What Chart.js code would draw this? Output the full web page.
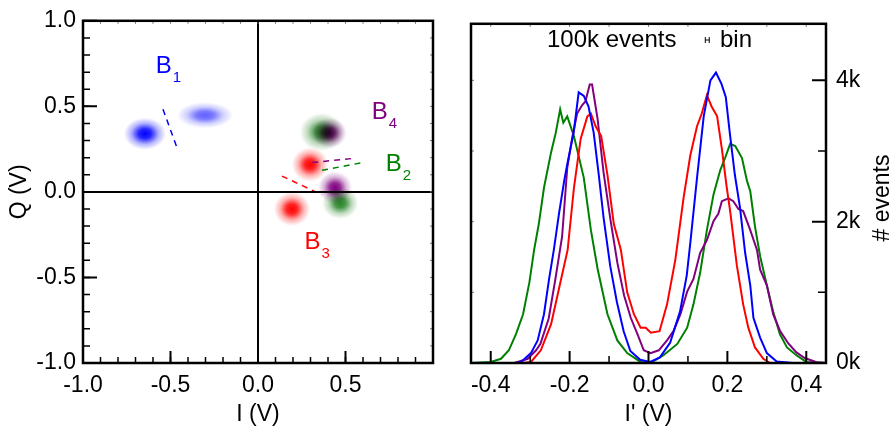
<!DOCTYPE html>
<html>
<head>
<meta charset="utf-8">
<script src="https://cdn.jsdelivr.net/npm/chart.js@4.4.0/dist/chart.umd.min.js"></script>
<style>
  html, body { margin: 0; padding: 0; background: #fff; }
  #wrap { position: relative; width: 896px; height: 431px; }
  .panel { position: absolute; top: 0; height: 431px; }
  #left { left: 0; width: 450px; }
  #right { left: 450px; width: 446px; }
</style>
</head>
<body>
<div id="wrap">
  <div class="panel" id="left"><canvas id="chartIQ"></canvas></div>
  <div class="panel" id="right"><canvas id="chartHist"></canvas></div>
</div>
<script>
// ---- left panel: IQ plane ----
const iTicks = [-1.0, -0.5, 0.0, 0.5];
const qTicks = [-1.0, -0.5, 0.0, 0.5, 1.0];

const blueBlobI = [-0.646, -0.303];
const blueBlobQ = [0.34, 0.448];
const greenBlobI = [0.365, 0.47];
const greenBlobQ = [0.35, -0.065];
const purpleBlobI = [0.41, 0.44];
const purpleBlobQ = [0.345, 0.025];
const redBlobI = [0.297, 0.194];
const redBlobQ = [0.16, -0.10];

// dashed separator lines, [I, Q] end points
const b1Dash = [[-0.543, 0.483], [-0.463, 0.259]];
const b4Dash = [[0.31, 0.172], [0.537, 0.195]];
const b2Dash = [[0.366, 0.126], [0.60, 0.172]];
const b3Dash = [[0.137, 0.092], [0.366, -0.017]];

const stateNames = ['B', 'B', 'B', 'B'];
const stateSubs = ['1', '4', '2', '3'];
const stateI = [-0.585, 0.65, 0.73, 0.266];
const stateQ = [0.695, 0.425, 0.12, -0.333];

// ---- right panel: histograms of I' ----
const histTicks = [-0.4, -0.2, 0.0, 0.2, 0.4];
const countTicks = [0, 2000, 4000];
const countLabels = ['0k', '2k', '4k'];

const blueHist = [[-0.45,0],[-0.34,0],[-0.323,15],[-0.298,140],[-0.281,320],[-0.265,690],[-0.252,1190],[-0.24,1600],[-0.227,2110],[-0.214,2570],[-0.205,2840],[-0.19,3250],[-0.177,3830],[-0.164,3780],[-0.152,3630],[-0.139,3260],[-0.126,2660],[-0.114,2060],[-0.097,1370],[-0.08,860],[-0.063,450],[-0.046,170],[-0.021,45],[0.004,15],[0.029,80],[0.055,290],[0.08,730],[0.097,1240],[0.106,1700],[0.123,2620],[0.14,3490],[0.157,4000],[0.171,4110],[0.185,3950],[0.196,3760],[0.206,3260],[0.219,2660],[0.232,2200],[0.245,1560],[0.258,1100],[0.266,640],[0.283,360],[0.30,140],[0.325,20],[0.366,0],[0.45,0]];

const redHist = [[-0.45,0],[-0.32,0],[-0.298,15],[-0.273,180],[-0.247,550],[-0.227,1050],[-0.205,1600],[-0.189,2480],[-0.172,3170],[-0.155,3490],[-0.146,3530],[-0.134,3350],[-0.12,3210],[-0.104,2660],[-0.088,1970],[-0.07,1600],[-0.054,1000],[-0.037,690],[-0.02,500],[-0.007,500],[0.006,430],[0.028,450],[0.047,830],[0.068,1460],[0.089,2340],[0.106,2940],[0.123,3350],[0.135,3530],[0.148,3790],[0.16,3630],[0.174,3490],[0.186,3030],[0.198,2500],[0.207,2150],[0.224,1380],[0.24,830],[0.253,500],[0.27,220],[0.291,60],[0.308,0],[0.45,0]];

const purpleHist = [[-0.45,0],[-0.34,0],[-0.306,60],[-0.285,180],[-0.274,270],[-0.253,630],[-0.236,1190],[-0.219,1790],[-0.206,2760],[-0.194,3170],[-0.181,3530],[-0.168,3650],[-0.16,3700],[-0.149,3940],[-0.143,3940],[-0.129,3450],[-0.114,2700],[-0.096,2010],[-0.079,1420],[-0.062,960],[-0.045,640],[-0.028,410],[-0.012,180],[0.005,140],[0.026,180],[0.047,320],[0.064,460],[0.081,690],[0.098,1010],[0.114,1190],[0.131,1560],[0.148,1740],[0.165,2010],[0.177,2110],[0.186,2290],[0.203,2330],[0.215,2290],[0.228,2180],[0.24,2150],[0.258,1880],[0.275,1600],[0.283,1320],[0.30,1100],[0.316,690],[0.333,460],[0.354,280],[0.375,150],[0.396,70],[0.426,10],[0.45,0]];

const greenHist = [[-0.45,0],[-0.40,15],[-0.374,60],[-0.354,180],[-0.336,410],[-0.318,690],[-0.302,1140],[-0.29,1600],[-0.278,1970],[-0.265,2480],[-0.247,2980],[-0.235,3260],[-0.224,3590],[-0.216,3400],[-0.206,3490],[-0.189,3210],[-0.164,2620],[-0.146,1880],[-0.129,1330],[-0.104,690],[-0.079,320],[-0.054,140],[-0.02,15],[0.005,0],[0.038,110],[0.073,270],[0.098,500],[0.114,830],[0.131,1280],[0.148,1880],[0.165,2390],[0.182,2730],[0.194,2900],[0.207,3100],[0.22,3070],[0.237,2900],[0.25,2570],[0.258,2430],[0.27,1930],[0.283,1510],[0.30,1100],[0.316,730],[0.333,410],[0.351,220],[0.375,110],[0.40,15],[0.45,0]];

const binCenter = 0.149;
const binWidth = 0.01;

const BLUE = '#0000ff', RED = '#ff0000', GREEN = '#008000', PURPLE = '#800080';
const FONT = "'Liberation Sans', Arial, sans-serif";

Chart.defaults.font.family = FONT;
Chart.defaults.font.size = 23;
Chart.defaults.color = '#000';
Chart.defaults.animation = false;

function blob(rgb, w, h, peak) {
    const c = document.createElement('canvas');
    c.width = w; c.height = h;
    const g = c.getContext('2d');
    g.translate(w / 2, h / 2);
    g.scale(w / 2, h / 2);
    const grad = g.createRadialGradient(0, 0, 0, 0, 0, 1);
    grad.addColorStop(0, 'rgba(' + rgb + ',' + peak + ')');
    grad.addColorStop(0.3, 'rgba(' + rgb + ',' + (peak * 0.85) + ')');
    grad.addColorStop(0.65, 'rgba(' + rgb + ',' + (peak * 0.3) + ')');
    grad.addColorStop(1, 'rgba(' + rgb + ',0)');
    g.fillStyle = grad;
    g.fillRect(-1, -1, 2, 2);
    return c;
}

const toXY = (xs, ys) => xs.map((x, i) => ({ x: x, y: ys[i] }));
const pairs = arr => arr.map(p => ({ x: p[0], y: p[1] }));

function inward(ctx, scale, area, side, values, len, width) {
    ctx.lineWidth = width;
    ctx.beginPath();
    values.forEach(v => {
        const p = scale.getPixelForValue(v);
        if (side === 'bottom') { ctx.moveTo(p, area.bottom); ctx.lineTo(p, area.bottom - len); }
        if (side === 'top') { ctx.moveTo(p, area.top); ctx.lineTo(p, area.top + len); }
        if (side === 'left') { ctx.moveTo(area.left, p); ctx.lineTo(area.left + len, p); }
        if (side === 'right') { ctx.moveTo(area.right, p); ctx.lineTo(area.right - len, p); }
    });
    ctx.stroke();
}

function steps(from, to, step) {
    const out = [];
    for (let k = 0; from + k * step <= to + 1e-9; k++) out.push(+(from + k * step).toFixed(4));
    return out;
}

const whiteBg = {
    id: 'whiteBg',
    beforeDraw(chart) {
        const ctx = chart.ctx;
        ctx.save();
        ctx.fillStyle = '#fff';
        ctx.fillRect(0, 0, chart.width, chart.height);
        ctx.restore();
    }
};

// ---- left chart ----
const iqDecor = {
    id: 'iqDecor',
    beforeDatasetDraw(chart, args) {
        if (args.meta._dataset.isBlob) {
            chart.ctx.save();
            chart.ctx.globalCompositeOperation = 'multiply';
        }
    },
    afterDatasetDraw(chart, args) {
        if (args.meta._dataset.isBlob) chart.ctx.restore();
    },
    afterDatasetsDraw(chart) {
        const { ctx, chartArea: a, scales: { x, y } } = chart;
        ctx.save();
        ctx.strokeStyle = '#000';
        // zero lines
        ctx.lineWidth = 2;
        ctx.beginPath();
        ctx.moveTo(x.getPixelForValue(0), a.top);
        ctx.lineTo(x.getPixelForValue(0), a.bottom);
        ctx.moveTo(a.left, y.getPixelForValue(0));
        ctx.lineTo(a.right, y.getPixelForValue(0));
        ctx.stroke();
        // ticks
        inward(ctx, x, a, 'bottom', steps(-1, 0.9, 0.1), 6, 1.5);
        inward(ctx, x, a, 'bottom', iTicks, 12, 2);
        inward(ctx, y, a, 'left', steps(-1, 1, 0.1), 7, 1.5);
        inward(ctx, y, a, 'left', qTicks, 14, 2);
        ctx.strokeStyle = '#777';
        inward(ctx, x, a, 'top', steps(-0.9, 0.9, 0.1), 3, 1);
        inward(ctx, y, a, 'right', steps(-0.9, 0.9, 0.1), 3, 1);
        // frame
        ctx.strokeStyle = '#000';
        ctx.lineWidth = 2.5;
        ctx.strokeRect(a.left, a.top, a.width, a.height);
        // state labels
        const colors = [BLUE, PURPLE, GREEN, RED];
        ctx.textBaseline = 'alphabetic';
        ctx.textAlign = 'left';
        stateNames.forEach((n, i) => {
            const px = x.getPixelForValue(stateI[i]);
            const py = y.getPixelForValue(stateQ[i]);
            ctx.fillStyle = colors[i];
            ctx.font = '24px ' + FONT;
            ctx.fillText(n, px, py);
            const w = ctx.measureText(n).width;
            ctx.font = '15px ' + FONT;
            ctx.fillText(stateSubs[i], px + w + 1, py + 9);
        });
        ctx.restore();
    }
};

function blobSet(xs, ys, rgb, sizes, peaks) {
    return {
        isBlob: true,
        data: toXY(xs, ys),
        pointStyle: sizes.map((s, i) => blob(rgb, s[0], s[1], peaks[i])),
        pointRadius: 10,
        showLine: false
    };
}

function dashSet(seg, color) {
    return {
        data: pairs(seg),
        showLine: true,
        borderColor: color,
        borderWidth: 1.5,
        borderDash: [6, 5],
        pointRadius: 0
    };
}

new Chart(document.getElementById('chartIQ'), {
    type: 'scatter',
    data: {
        datasets: [
            dashSet(b1Dash, BLUE),
            dashSet(b4Dash, PURPLE),
            dashSet(b2Dash, GREEN),
            dashSet(b3Dash, RED),
            blobSet(redBlobI, redBlobQ, '255,0,0', [[36, 34], [36, 34]], [1, 1]),
            blobSet(purpleBlobI, purpleBlobQ, '128,0,128', [[34, 30], [34, 32]], [1, 1]),
            blobSet(greenBlobI, greenBlobQ, '0,110,0', [[44, 38], [36, 32]], [0.85, 0.85]),
            blobSet(blueBlobI, blueBlobQ, '0,0,255', [[42, 32], [56, 26]], [1, 0.62])
        ]
    },
    options: {
        responsive: true,
        maintainAspectRatio: false,
        events: [],
        layout: { padding: { top: 15, right: 17, left: 0, bottom: 0 } },
        plugins: { legend: { display: false }, tooltip: { enabled: false } },
        scales: {
            x: {
                type: 'linear', min: -1, max: 1,
                grid: { display: false, drawTicks: false },
                border: { display: false },
                afterBuildTicks: s => { s.ticks = iTicks.map(v => ({ value: v })); },
                afterFit: s => { s.height = 68; },
                ticks: { padding: 9, maxRotation: 0, callback: v => v.toFixed(1) },
                title: { display: true, text: 'I (V)', padding: { top: 0, bottom: 3 } }
            },
            y: {
                type: 'linear', min: -1, max: 1,
                grid: { display: false, drawTicks: false },
                border: { display: false },
                afterBuildTicks: s => { s.ticks = qTicks.map(v => ({ value: v })); },
                afterFit: s => { s.width = 83; },
                ticks: { padding: 7, callback: v => v.toFixed(1) },
                title: { display: true, text: 'Q (V)', padding: { top: 6, bottom: 0 } }
            }
        }
    },
    plugins: [whiteBg, iqDecor]
});

// ---- right chart ----
const histDecor = {
    id: 'histDecor',
    afterDatasetsDraw(chart) {
        const { ctx, chartArea: a, scales: { x, y } } = chart;
        ctx.save();
        ctx.strokeStyle = '#000';
        inward(ctx, x, a, 'bottom', steps(-0.3, 0.3, 0.2), 7, 1.5);
        inward(ctx, x, a, 'bottom', histTicks, 12, 2);
        inward(ctx, y, a, 'right', steps(1000, 3000, 2000), 8, 1.5);
        inward(ctx, y, a, 'right', countTicks, 14, 2);
        ctx.strokeStyle = '#777';
        inward(ctx, x, a, 'top', steps(-0.4, 0.4, 0.1), 3, 1);
        inward(ctx, y, a, 'left', steps(1000, 4000, 1000), 3, 1);
        ctx.strokeStyle = '#000';
        ctx.lineWidth = 2.5;
        ctx.strokeRect(a.left, a.top, a.width, a.height);

        ctx.fillStyle = '#000';
        ctx.font = '24px ' + FONT;
        ctx.textBaseline = 'alphabetic';
        ctx.textAlign = 'left';
        ctx.fillText('100k events', 97, 47);
        ctx.fillText('bin', 270, 47);
        // bin width marker
        const bx0 = x.getPixelForValue(binCenter - binWidth / 2);
        const bx1 = x.getPixelForValue(binCenter + binWidth / 2);
        ctx.lineWidth = 1;
        ctx.beginPath();
        ctx.moveTo(bx0, 37); ctx.lineTo(bx0, 43);
        ctx.moveTo(bx1, 37); ctx.lineTo(bx1, 43);
        ctx.moveTo(bx0, 40); ctx.lineTo(bx1, 40);
        ctx.stroke();
        // right axis title, reading bottom to top
        ctx.font = '23px ' + FONT;
        ctx.translate(433, 198);
        ctx.rotate(-Math.PI / 2);
        ctx.textAlign = 'center';
        ctx.textBaseline = 'middle';
        ctx.fillText('# events', 0, 0);
        ctx.restore();
    }
};

function histSet(arr, color) {
    return {
        data: pairs(arr),
        borderColor: color,
        borderWidth: 2,
        pointRadius: 0,
        tension: 0,
        fill: false
    };
}

new Chart(document.getElementById('chartHist'), {
    type: 'line',
    data: {
        datasets: [
            histSet(blueHist, BLUE),
            histSet(redHist, RED),
            histSet(purpleHist, PURPLE),
            histSet(greenHist, GREEN)
        ]
    },
    options: {
        responsive: true,
        maintainAspectRatio: false,
        events: [],
        layout: { padding: { top: 15, right: 0, left: 21, bottom: 0 } },
        plugins: { legend: { display: false }, tooltip: { enabled: false } },
        scales: {
            x: {
                type: 'linear', min: -0.45, max: 0.45,
                grid: { display: false, drawTicks: false },
                border: { display: false },
                afterBuildTicks: s => { s.ticks = histTicks.map(v => ({ value: v })); },
                afterFit: s => { s.height = 68; },
                ticks: { padding: 9, maxRotation: 0, callback: v => v.toFixed(1) },
                title: { display: true, text: "I' (V)", padding: { top: 0, bottom: 3 } }
            },
            y: {
                type: 'linear', position: 'right', min: 0, max: 4800,
                grid: { display: false, drawTicks: false },
                border: { display: false },
                afterBuildTicks: s => { s.ticks = countTicks.map(v => ({ value: v })); },
                afterFit: s => { s.width = 70; },
                ticks: { padding: 10, callback: (v, i) => countLabels[i] }
            }
        }
    },
    plugins: [whiteBg, histDecor]
});
</script>
</body>
</html>
